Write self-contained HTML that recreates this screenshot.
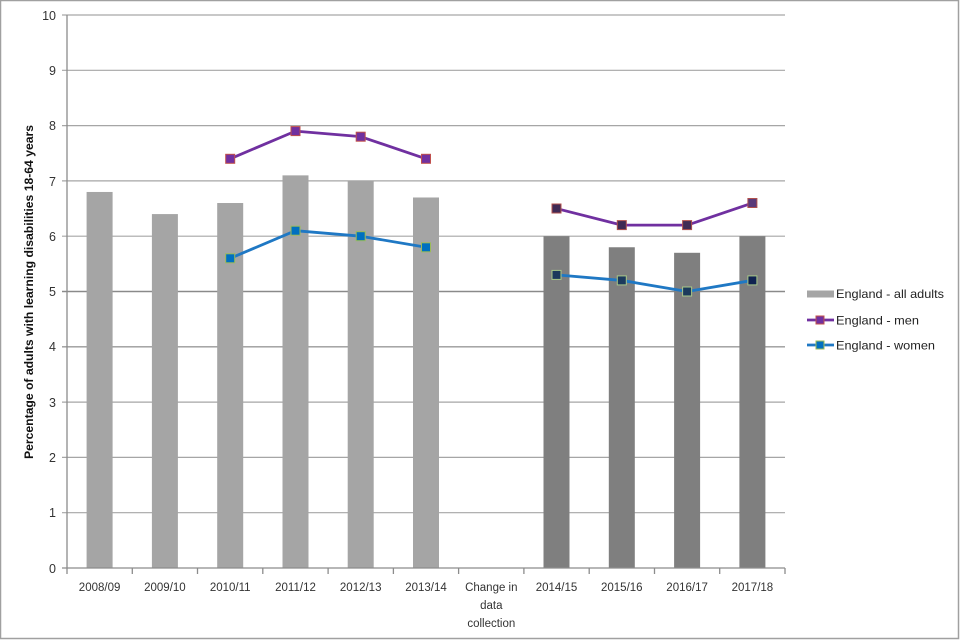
<!DOCTYPE html>
<html><head><meta charset="utf-8"><style>
html,body{margin:0;padding:0;background:#fff;}
svg{display:block;}
text{font-family:"Liberation Sans",sans-serif;fill:#333;}
</style></head><body>
<svg width="960" height="640" viewBox="0 0 960 640" xmlns="http://www.w3.org/2000/svg">
<rect x="0.5" y="0.5" width="958" height="638" fill="#fff" stroke="#a0a0a0" stroke-width="1.5"/>
<!-- gridlines -->
<g stroke="#a6a6a6" stroke-width="1.2">
<line x1="62" y1="15" x2="785" y2="15"/>
<line x1="62" y1="70.3" x2="785" y2="70.3"/>
<line x1="62" y1="125.6" x2="785" y2="125.6"/>
<line x1="62" y1="180.9" x2="785" y2="180.9"/>
<line x1="62" y1="236.2" x2="785" y2="236.2"/>
<line x1="62" y1="291.5" x2="785" y2="291.5" stroke="#8a8a8a" stroke-width="1.6"/>
<line x1="62" y1="346.8" x2="785" y2="346.8" stroke="#999" stroke-width="1.4"/>
<line x1="62" y1="402.1" x2="785" y2="402.1"/>
<line x1="62" y1="457.4" x2="785" y2="457.4"/>
<line x1="62" y1="512.7" x2="785" y2="512.7"/>
</g>
<!-- bars -->
<g fill="#a5a5a5">
<rect x="86.6" y="191.96" width="26" height="376.04"/>
<rect x="151.9" y="214.08" width="26" height="353.92"/>
<rect x="217.2" y="203.02" width="26" height="364.98"/>
<rect x="282.5" y="175.37" width="26" height="392.63"/>
<rect x="347.7" y="180.9" width="26" height="387.1"/>
<rect x="413.0" y="197.49" width="26" height="370.51"/>
</g>
<g fill="#7f7f7f">
<rect x="543.5" y="236.2" width="26" height="331.8"/>
<rect x="608.8" y="247.26" width="26" height="320.74"/>
<rect x="674.1" y="252.79" width="26" height="315.21"/>
<rect x="739.4" y="236.2" width="26" height="331.8"/>
</g>
<!-- axes -->
<g stroke="#8c8c8c" stroke-width="1.3">
<line x1="67" y1="15" x2="67" y2="568"/>
<line x1="62" y1="568" x2="785" y2="568"/>
<line x1="67" y1="568" x2="67" y2="574"/>
<line x1="132.3" y1="568" x2="132.3" y2="574"/>
<line x1="197.5" y1="568" x2="197.5" y2="574"/>
<line x1="262.8" y1="568" x2="262.8" y2="574"/>
<line x1="328.1" y1="568" x2="328.1" y2="574"/>
<line x1="393.4" y1="568" x2="393.4" y2="574"/>
<line x1="458.6" y1="568" x2="458.6" y2="574"/>
<line x1="523.9" y1="568" x2="523.9" y2="574"/>
<line x1="589.2" y1="568" x2="589.2" y2="574"/>
<line x1="654.5" y1="568" x2="654.5" y2="574"/>
<line x1="719.7" y1="568" x2="719.7" y2="574"/>
<line x1="785" y1="568" x2="785" y2="574"/>
</g>
<!-- men line -->
<g stroke="#7030a0" stroke-width="2.8" fill="none" stroke-linejoin="round">
<polyline points="230.18,158.78 295.45,131.13 360.73,136.66 426.0,158.78"/>
<polyline points="556.55,208.55 621.82,225.14 687.09,225.14 752.36,203.02"/>
</g>
<!-- women line -->
<g stroke="#1f78c4" stroke-width="2.8" fill="none" stroke-linejoin="round">
<polyline points="230.18,258.32 295.45,230.67 360.73,236.2 426.0,247.26"/>
<polyline points="556.55,274.91 621.82,280.44 687.09,291.5 752.36,280.44"/>
</g>
<!-- men markers -->
<g fill="#7030a0" stroke="#c0504d" stroke-width="1">
<rect x="225.7" y="154.3" width="9" height="9"/>
<rect x="291.0" y="126.6" width="9" height="9"/>
<rect x="356.2" y="132.2" width="9" height="9"/>
<rect x="421.5" y="154.3" width="9" height="9"/>
</g>
<g fill="#3f2a55" stroke="#b0504d" stroke-width="1">
<rect x="552.0" y="204.0" width="9" height="9"/>
<rect x="617.3" y="220.6" width="9" height="9"/>
<rect x="682.6" y="220.6" width="9" height="9"/>
<rect x="747.9" y="198.5" width="9" height="9" fill="#5a3a7a"/>
</g>
<!-- women markers -->
<g fill="#0070c0" stroke="#9bbb59" stroke-width="1">
<rect x="225.7" y="253.8" width="9" height="9"/>
<rect x="291.0" y="226.2" width="9" height="9"/>
<rect x="356.2" y="231.7" width="9" height="9"/>
<rect x="421.5" y="242.8" width="9" height="9"/>
</g>
<g fill="#1c3a5c" stroke="#a8c888" stroke-width="1">
<rect x="552.0" y="270.4" width="9" height="9"/>
<rect x="617.3" y="275.9" width="9" height="9"/>
<rect x="682.6" y="287.0" width="9" height="9"/>
<rect x="747.9" y="275.9" width="9" height="9" fill="#0f2250"/>
</g>
<!-- y labels -->
<g font-size="12.5" text-anchor="end">
<text x="56" y="20">10</text>
<text x="56" y="75">9</text>
<text x="56" y="130">8</text>
<text x="56" y="186">7</text>
<text x="56" y="241">6</text>
<text x="56" y="296">5</text>
<text x="56" y="351">4</text>
<text x="56" y="407">3</text>
<text x="56" y="462">2</text>
<text x="56" y="517">1</text>
<text x="56" y="573">0</text>
</g>
<!-- x labels -->
<g font-size="11.5" text-anchor="middle">
<text x="99.6" y="591">2008/09</text>
<text x="164.9" y="591">2009/10</text>
<text x="230.2" y="591">2010/11</text>
<text x="295.5" y="591">2011/12</text>
<text x="360.7" y="591">2012/13</text>
<text x="426.0" y="591">2013/14</text>
<text x="491.3" y="591">Change in</text>
<text x="491.3" y="609">data</text>
<text x="491.3" y="627">collection</text>
<text x="556.5" y="591">2014/15</text>
<text x="621.8" y="591">2015/16</text>
<text x="687.1" y="591">2016/17</text>
<text x="752.4" y="591">2017/18</text>
</g>
<!-- y title -->
<text transform="translate(33,292) rotate(-90)" font-size="12" font-weight="bold" text-anchor="middle" textLength="334" lengthAdjust="spacingAndGlyphs" style="fill:#111">Percentage of adults with learning disabilities 18-64 years</text>
<!-- legend -->
<rect x="807" y="290.5" width="27" height="7" fill="#a5a5a5"/>
<text x="836" y="298" font-size="12" textLength="108" lengthAdjust="spacingAndGlyphs" style="fill:#222">England - all adults</text>
<line x1="807" y1="320" x2="834" y2="320" stroke="#7030a0" stroke-width="2.8"/>
<rect x="816" y="316" width="8" height="8" fill="#7030a0" stroke="#c0504d" stroke-width="1"/>
<text x="836" y="324.5" font-size="12" textLength="83" lengthAdjust="spacingAndGlyphs" style="fill:#222">England - men</text>
<line x1="807" y1="345" x2="834" y2="345" stroke="#1f78c4" stroke-width="2.8"/>
<rect x="816" y="341" width="8" height="8" fill="#0070c0" stroke="#9bbb59" stroke-width="1"/>
<text x="836" y="349.5" font-size="12" textLength="99" lengthAdjust="spacingAndGlyphs" style="fill:#222">England - women</text>
</svg>
</body></html>
